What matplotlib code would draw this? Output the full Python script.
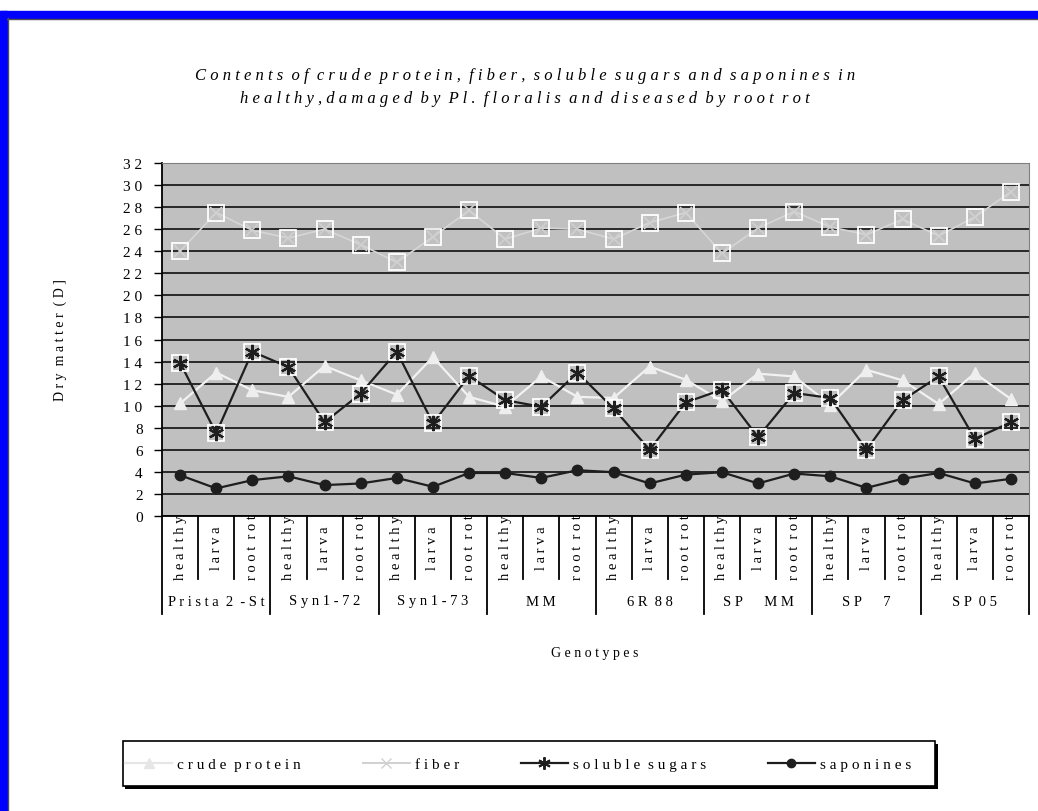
import numpy as np
import matplotlib
matplotlib.use('Agg')
import matplotlib.pyplot as plt
from matplotlib.lines import Line2D
from matplotlib.patches import Rectangle

plt.rcParams['font.family'] = ['Liberation Serif', 'DejaVu Serif']

# ---- data ----
genotypes = ['Prista 2 -St', 'Syn1-72', 'Syn1-73', 'MM', '6R 88',
             'SP   MM', 'SP   7', 'SP 05']
states = ['healthy', 'larva', 'root rot']

crude_protein = [10.2, 13.0, 11.4, 10.8, 13.6, 12.3,
                 11.0, 14.4, 10.8, 9.9, 12.65, 10.8,
                 10.7, 13.55, 12.35, 10.4, 12.9, 12.65,
                 10.1, 13.25, 12.3, 10.15, 12.95, 10.6]
fiber = [24.0, 27.5, 25.9, 25.2, 26.0, 24.6,
         23.0, 25.3, 27.7, 25.1, 26.1, 26.0,
         25.1, 26.6, 27.5, 23.8, 26.1, 27.6,
         26.2, 25.5, 26.9, 25.4, 27.1, 29.4]
soluble_sugars = [13.9, 7.5, 14.9, 13.5, 8.5, 11.1,
                  14.9, 8.4, 12.7, 10.5, 9.9, 13.0,
                  9.75, 6.0, 10.3, 11.45, 7.15, 11.15,
                  10.7, 6.0, 10.5, 12.65, 7.0, 8.5]
saponines = [3.7, 2.5, 3.25, 3.6, 2.8, 2.95,
             3.45, 2.65, 3.9, 3.9, 3.45, 4.15,
             3.97, 2.95, 3.75, 3.97, 2.95, 3.85,
             3.6, 2.55, 3.37, 3.9, 2.95, 3.37]


def spaced(s):
    # old Excel export look: letters pulled apart, words a bit further
    return '  '.join(' '.join(w) for w in s.split(' '))


W, H = 1038, 812
fig = plt.figure(figsize=(W / 100, H / 100), dpi=100)

# blue frame (top and left only, the rest is cropped off)
fig.patches.append(Rectangle((0, 0), 7 / W, 1 - 12 / H, transform=fig.transFigure,
                             color='#0000FF', zorder=0))
fig.patches.append(Rectangle((0, 1 - 19 / H), 1, 7 / H, transform=fig.transFigure,
                             color='#0000FF', zorder=0))
fig.add_artist(Line2D([7.5 / W, 7.5 / W], [0, 1 - 19 / H], color='#505050', lw=1))
fig.add_artist(Line2D([7 / W, 1], [1 - 19.5 / H, 1 - 19.5 / H], color='#505050', lw=1))

# main plot area
left, right, top, bottom = 162, 1029, 164, 517
ax = fig.add_axes([left / W, 1 - bottom / H, (right - left) / W, (bottom - top) / H])
x = np.arange(len(crude_protein))
ax.set_facecolor('#C0C0C0')
ax.set_xlim(-0.5, len(x) - 0.5)
ax.set_ylim(0, 32)
yt = list(range(0, 33, 2))
ax.set_yticks(yt)
ax.set_yticklabels([spaced(str(v)) for v in yt])
ax.set_xticks([])
ax.yaxis.grid(True, color='black', lw=1.1)
ax.set_axisbelow(True)
ax.tick_params(axis='y', direction='out', length=6, width=1, labelsize=11, pad=8)
for s in ['top', 'right']:
    ax.spines[s].set_color('#808080')
for s in ['left', 'bottom']:
    ax.spines[s].set_color('black')
    ax.spines[s].set_linewidth(1.3)

ax.plot(x, crude_protein, color='#F2F2F2', lw=1.6, marker='^', ms=8.5,
        mfc='#EEEEEE', mec='#EEEEEE', zorder=3)
ax.plot(x, fiber, color='#D6D6D6', lw=1.2, zorder=3)
ax.plot(x, fiber, ls='none', marker='s', ms=12, mfc='none', mec='white', mew=1.3, zorder=4)
ax.plot(x, fiber, ls='none', marker='x', ms=8, mec='#D0D0D0', mew=1.2, zorder=4)
ax.plot(x, soluble_sugars, color='#1E1E1E', lw=1.6, zorder=3)
ax.plot(x, soluble_sugars, ls='none', marker='s', ms=12, mfc='none', mec='white', mew=1.3, zorder=4)
ax.plot(x, soluble_sugars, ls='none', marker=(6, 2, 0), ms=11, mec='#1E1E1E', mew=1.6, zorder=5)
ax.plot(x, saponines, color='#1E1E1E', lw=1.6, marker='o', ms=7.5,
        mfc='#1E1E1E', mec='#1E1E1E', zorder=3)

# category table under the plot
t_bot = 615
axt = fig.add_axes([left / W, 1 - t_bot / H, (right - left) / W, (t_bot - bottom) / H])
axt.set_xlim(ax.get_xlim())
axt.set_ylim(0, 1)
axt.axis('off')
n_st = len(states)
cat_y = (t_bot - 580) / (t_bot - bottom)
for i in range(len(x) + 1):
    xb = i - 0.5
    y_low = 0 if i % n_st == 0 else cat_y
    axt.plot([xb, xb], [y_low, 1], color='black', lw=1.3, clip_on=False)
for i in range(len(x)):
    axt.text(i, (t_bot - 548) / (t_bot - bottom), spaced(states[i % n_st]),
             rotation=90, ha='center', va='center', fontsize=10.5,
             clip_on=True, clip_box=axt.bbox)
for g, name in enumerate(genotypes):
    axt.text(g * n_st + 1, (t_bot - 602) / (t_bot - bottom), spaced(name),
             ha='center', va='center', fontsize=10.5)

# titles
fig.text(525 / W, 1 - 76 / H, spaced('Contents of crude protein, fiber, soluble sugars and saponines in'),
         ha='center', va='center', fontsize=12, style='italic')
fig.text(525 / W, 1 - 99 / H, spaced('healthy,damaged by Pl. floralis and diseased by root rot'),
         ha='center', va='center', fontsize=12, style='italic')
fig.text(60 / W, 1 - 340 / H, spaced('Dry matter (D]'), rotation=90,
         ha='center', va='center', fontsize=10)
fig.text(595 / W, 1 - 653 / H, spaced('Genotypes'), ha='center', va='center', fontsize=10)

# legend: box drawn by hand (with hard shadow), entries by fig.legend
lx0, lx1, ly0, ly1 = 123, 935, 742, 787
fig.patches.append(Rectangle((lx0 / W + 2.5 / W, 1 - ly1 / H - 2.5 / H), (lx1 - lx0) / W, (ly1 - ly0) / H,
                             transform=fig.transFigure, facecolor='black', edgecolor='none', zorder=1))
fig.patches.append(Rectangle((lx0 / W, 1 - ly1 / H), (lx1 - lx0) / W, (ly1 - ly0) / H,
                             transform=fig.transFigure, facecolor='white', edgecolor='black',
                             lw=1.2, zorder=2))
handles = [
    Line2D([], [], color='#E6E6E6', lw=1.6, marker='^', ms=7, mfc='#E6E6E6', mec='#E6E6E6'),
    Line2D([], [], color='#D0D0D0', lw=1.4, marker='x', ms=7, mec='#D0D0D0'),
    Line2D([], [], color='#1E1E1E', lw=1.6, marker=(6, 2, 0), ms=9, mec='#1E1E1E', mew=1.4),
    Line2D([], [], color='#1E1E1E', lw=1.6, marker='o', ms=6, mfc='#1E1E1E'),
]
labels = [spaced(s) for s in ['crude protein', 'fiber', 'soluble sugars', 'saponines']]
leg = fig.legend(handles, labels, loc='center', ncol=4, mode='expand',
                 bbox_to_anchor=(125 / W, 1 - 780 / H, (911 - 125) / W, 30 / H),
                 frameon=False, fontsize=11,
                 handlelength=3.1, handletextpad=0.3, borderaxespad=0, borderpad=0)
leg.set_zorder(5)

fig.savefig('out.png', dpi=100)
